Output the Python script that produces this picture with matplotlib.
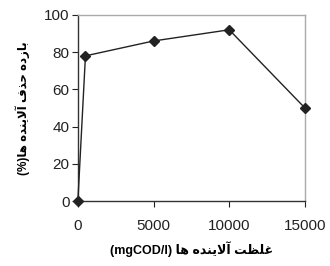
import matplotlib
matplotlib.use("Agg")
import matplotlib.pyplot as plt

x_vals = [0, 500, 5000, 10000, 15000]
y_vals = [0, 78, 86, 92, 50]
x_ticks = [0, 5000, 10000, 15000]
y_ticks = [0, 20, 40, 60, 80, 100]

# Persian labels written in visual order using Arabic presentation forms
ylabel = ("(%)" + "\uFE8E\uFEEB" + " " + "\uFEE9\uFEAA\uFEE8\uFEF3\uFEFB\uFE81" + " "
          + "\uFED1\uFEAC\uFEA3" + " " + "\uFEE9\uFEA9\uFEAF\uFE8E\uFE91")
xlabel = ("(mgCOD/l) " + "\uFE8E\uFEEB" + " " + "\uFEE9\uFEAA\uFEE8\uFEF3\uFEFB\uFE81" + " "
          + "\uFE96\uFEC8\uFEE0\uFECF")

fam = ['Liberation Sans', 'DejaVu Sans']
plt.rcParams['font.family'] = fam

fig = plt.figure(figsize=(3.3, 2.66), dpi=100)
ax = fig.add_axes([0.236, 0.244, 0.688, 0.70])
ax.plot(x_vals, y_vals, color='#222222', lw=1.0, marker='D', ms=5,
        markerfacecolor='#222222', markeredgecolor='#222222', clip_on=False, zorder=3)
ax.set_xlim(0, 15000)
ax.set_ylim(0, 100)
ax.set_xticks(x_ticks)
ax.set_yticks(y_ticks)
ax.tick_params(axis='both', direction='out', length=4, width=0.8, labelsize=11,
               colors='#222222')
ax.tick_params(axis='x', pad=9)
ax.tick_params(axis='y', pad=2)
for s in ['top', 'right']:
    ax.spines[s].set_color('#aaaaaa')
    ax.spines[s].set_linewidth(1.0)
for s in ['left', 'bottom']:
    ax.spines[s].set_color('#333333')
    ax.spines[s].set_linewidth(1.0)
ax.set_xlabel(xlabel, fontsize=9, fontweight='bold', labelpad=6, family=fam)
ax.set_ylabel(ylabel, fontsize=8.5, fontweight='bold', labelpad=10, family=fam)
fig.savefig('out.png', dpi=100)
